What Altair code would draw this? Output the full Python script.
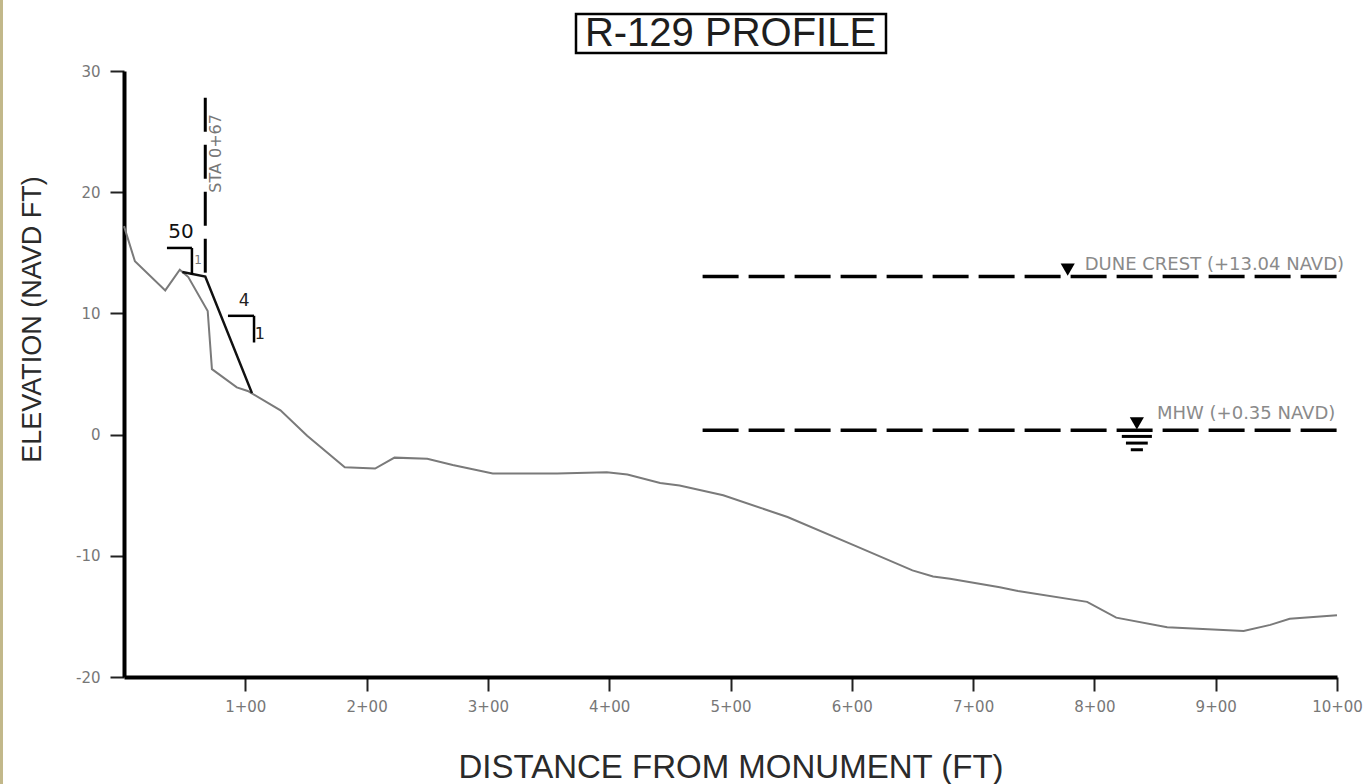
import altair as alt
import pandas as pd

# Surveyed beach profile: distance from monument (ft) vs elevation (ft NAVD)
profile_dist = [0, 9, 34, 46, 53, 69, 72.5, 93, 102, 129,
                151, 182, 207, 223, 250, 271, 304, 357, 398, 415,
                442, 458, 494, 547, 601, 650, 667, 681, 722, 737,
                794, 818, 860, 923, 945, 961, 1000]
profile_elev = [17.2, 14.3, 11.9, 13.6, 13.0, 10.2, 5.4, 3.9, 3.6, 2.0,
                -0.1, -2.7, -2.8, -1.9, -2.0, -2.5, -3.2, -3.2, -3.1, -3.3,
                -4.0, -4.2, -5.0, -6.8, -9.1, -11.2, -11.7, -11.9, -12.6, -12.9,
                -13.8, -15.1, -15.9, -16.2, -15.7, -15.2, -14.9]

# Design template: 50:1 berm up to station 0+67, then a 4:1 slope
template_dist = [48.1, 67, 105.5]
template_elev = [13.42, 13.04, 3.42]

station = 67
station_top = 27.8
dune_crest = 13.04
mhw = 0.35
ref_start, ref_end = 477, 1000

x_ticks = [100, 200, 300, 400, 500, 600, 700, 800, 900, 1000]
y_ticks = [-20, -10, 0, 10, 20, 30]

W, H = 1213, 606
LABEL_FONT = "DejaVu Sans"
TITLE_FONT = "Liberation Sans"

x_scale = alt.Scale(domain=[0, 1000], nice=False, zero=False)
y_scale = alt.Scale(domain=[-20, 30], nice=False, zero=False)

x_axis = alt.Axis(
    values=x_ticks, labelExpr="floor(datum.value / 100) + '+00'",
    title="DISTANCE FROM MONUMENT (FT)", grid=False,
    domainColor="black", domainWidth=4, tickColor="#222", tickWidth=2,
    tickSize=14, labelPadding=8, labelFont=LABEL_FONT, labelFontSize=15,
    labelColor="#777", labelFlush=False, labelOverlap=False,
    titleFont=TITLE_FONT, titleFontSize=33, titleFontWeight="normal",
    titleColor="#2a2a2a", titleX=W / 2, titleY=90,
    titleAlign="center", titleBaseline="middle",
)
y_axis = alt.Axis(
    values=y_ticks, title="ELEVATION (NAVD FT)", grid=False,
    labelExpr="datum.value < 0 ? '-' + abs(datum.value) : '' + datum.value",
    domainColor="black", domainWidth=4, tickColor="#222", tickWidth=2,
    tickSize=14, labelPadding=10, labelFont=LABEL_FONT, labelFontSize=15,
    labelColor="#777", labelFlush=False, labelOverlap=False,
    titleFont=TITLE_FONT, titleFontSize=27, titleFontWeight="normal",
    titleColor="#2a2a2a", titleAngle=270, titleX=-92, titleY=248,
    titleAlign="center", titleBaseline="middle",
)


def X(field):
    return alt.X(field, type="quantitative", scale=x_scale, axis=x_axis)


def Y(field):
    return alt.Y(field, type="quantitative", scale=y_scale, axis=y_axis)


profile_df = pd.DataFrame({"dist": profile_dist, "elev": profile_elev,
                           "order": range(len(profile_dist))})
template_df = pd.DataFrame({"dist": template_dist, "elev": template_elev,
                            "order": range(len(template_dist))})
station_df = pd.DataFrame({"dist": [station, station],
                           "elev": [station_top, dune_crest], "order": [0, 1]})
ref_df = pd.DataFrame({"dist": [ref_start, ref_start], "dist2": [ref_end, ref_end],
                       "elev": [dune_crest, mhw]})
tri_df = pd.DataFrame({"dist": [778, 835], "elev": [dune_crest, mhw]})
dune_text_df = pd.DataFrame({"dist": [792], "elev": [dune_crest],
                             "label": ["DUNE CREST (+13.04 NAVD)"]})
mhw_text_df = pd.DataFrame({"dist": [851.6], "elev": [mhw],
                            "label": ["MHW (+0.35 NAVD)"]})
# water-level bars under the MHW triangle
mhw_bars_df = pd.DataFrame({
    "dist": [822.6, 826, 830], "dist2": [847.4, 844, 840],
    "elev": [mhw - 0.5, mhw - 1.05, mhw - 1.6],
})
# slope indicator legs (50:1 and 4:1)
slope_legs_df = pd.DataFrame({
    "dist": [35.4, 56.0, 85.7, 107.2], "dist2": [56.0, 56.0, 107.2, 107.2],
    "elev": [15.4, 15.4, 9.8, 9.8], "elev2": [15.4, 13.2, 9.8, 7.6],
})
slope_text_df = pd.DataFrame({
    "dist": [47, 61, 99, 112], "elev": [16.7, 14.4, 11.0, 8.3],
    "label": ["50", "1", "4", "1"], "size": [20, 12, 17, 16],
    "color": ["#111", "#777", "#222", "#222"],
})
sta_df = pd.DataFrame({"dist": [75.8], "elev": [23.2], "label": ["STA 0+67"]})
title_df = pd.DataFrame({"label": ["R-129 PROFILE"]})

profile = alt.Chart(profile_df).mark_line(color="#7a7a7a", strokeWidth=2).encode(
    x=X("dist"), y=Y("elev"), order="order:Q")

template = alt.Chart(template_df).mark_line(color="#111", strokeWidth=2.5).encode(
    x=X("dist"), y=Y("elev"), order="order:Q")

station_line = alt.Chart(station_df).mark_line(
    color="black", strokeWidth=3, strokeDash=[34, 13]).encode(
    x=X("dist"), y=Y("elev"), order="order:Q")

ref_lines = alt.Chart(ref_df).mark_rule(
    color="black", strokeWidth=3.5, strokeDash=[36, 10]).encode(
    x=X("dist"), x2="dist2", y=Y("elev"))

triangles = alt.Chart(tri_df).mark_point(
    shape="triangle-down", filled=True, size=200, color="black",
    opacity=1, yOffset=-7).encode(x=X("dist"), y=Y("elev"))

dune_text = alt.Chart(dune_text_df).mark_text(
    align="left", baseline="middle", font=LABEL_FONT, fontSize=18,
    color="#8a8a8a", dy=-12).encode(x=X("dist"), y=Y("elev"), text="label")

mhw_text = alt.Chart(mhw_text_df).mark_text(
    align="left", baseline="middle", font=LABEL_FONT, fontSize=18,
    color="#8a8a8a", dy=-16).encode(x=X("dist"), y=Y("elev"), text="label")

mhw_bars = alt.Chart(mhw_bars_df).mark_rule(color="black", strokeWidth=3).encode(
    x=X("dist"), x2="dist2", y=Y("elev"))

slope_legs = alt.Chart(slope_legs_df).mark_rule(color="black", strokeWidth=2.5).encode(
    x=X("dist"), x2="dist2", y=Y("elev"), y2="elev2")

slope_text = alt.Chart(slope_text_df).mark_text(
    align="center", baseline="middle", font=LABEL_FONT).encode(
    x=X("dist"), y=Y("elev"), text="label",
    size=alt.Size("size:Q", scale=None),
    color=alt.Color("color:N", scale=None))

sta_text = alt.Chart(sta_df).mark_text(
    angle=270, align="center", baseline="middle", font=LABEL_FONT,
    fontSize=16, color="#777").encode(x=X("dist"), y=Y("elev"), text="label")

title_text = alt.Chart(title_df).mark_text(
    align="center", baseline="middle", font=TITLE_FONT, fontSize=40,
    color="#1e1e1e").encode(x=alt.value(W / 2), y=alt.value(-37), text="label")

title_box = alt.Chart(title_df).mark_rect(
    fill=None, fillOpacity=0, stroke="black", strokeWidth=2.5).encode(
    x=alt.value(452), x2=alt.value(762), y=alt.value(-57), y2=alt.value(-18))

edge = alt.Chart(title_df).mark_rule(color="#c2b88a", strokeWidth=3).encode(
    x=alt.value(-122.5), y=alt.value(-71), y2=alt.value(713))

chart = alt.layer(
    edge, ref_lines, mhw_bars, triangles, dune_text, mhw_text, profile,
    template, station_line, slope_legs, slope_text, sta_text, title_box,
    title_text,
).properties(
    width=W, height=H,
    autosize=alt.AutoSizeParams(type="none"),
    padding={"left": 124, "top": 71, "right": 31, "bottom": 107},
    background="white",
).configure_view(stroke=None)

chart.save("out.html", embed_options={"renderer": "svg", "actions": False})
